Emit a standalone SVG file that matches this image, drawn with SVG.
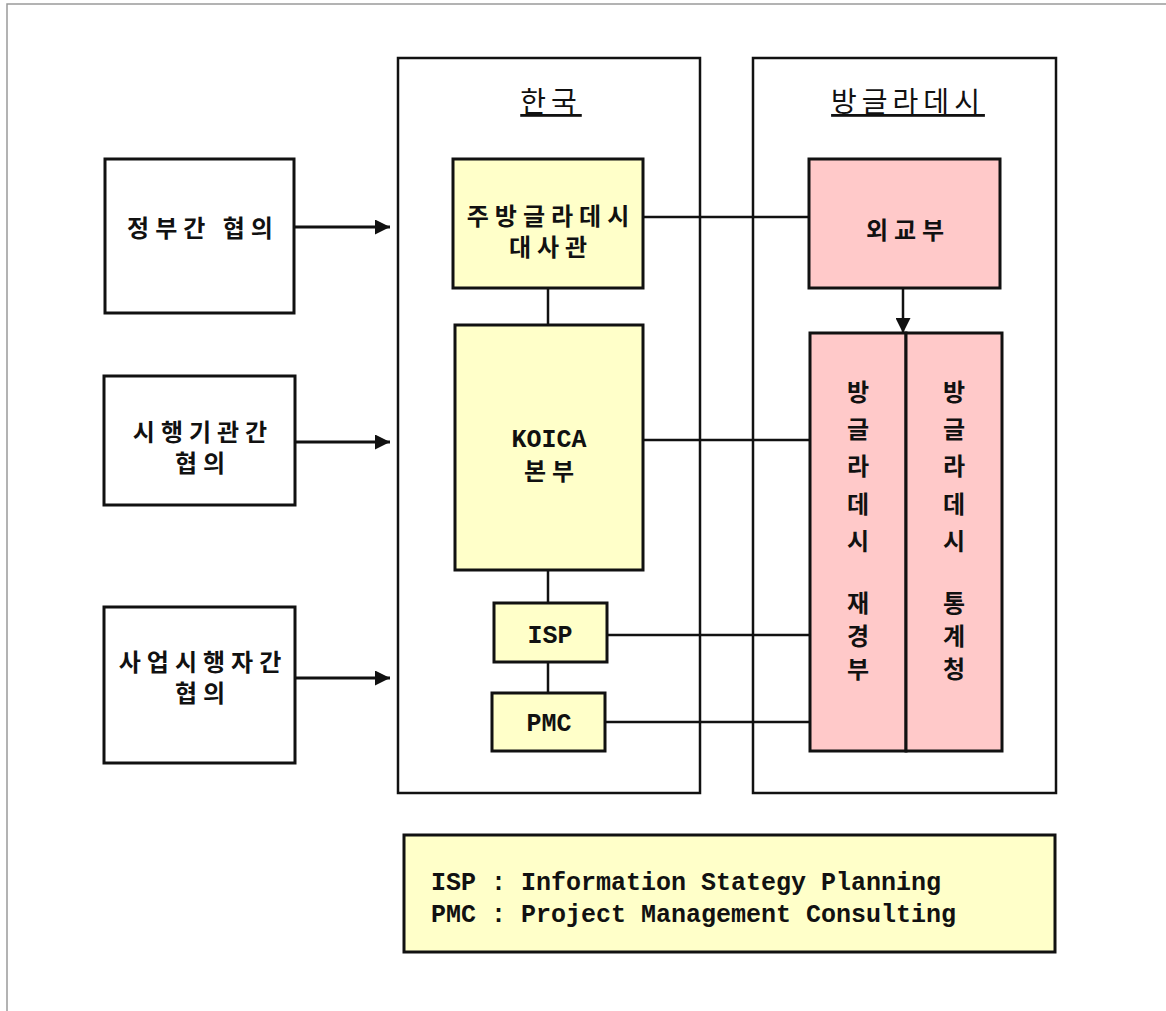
<svg xmlns="http://www.w3.org/2000/svg" width="1166" height="1011" viewBox="0 0 1166 1011">
<defs>
<style>
.frame{stroke:#9a9a9a;stroke-width:1.5;fill:none}
.cont{fill:#fff;stroke:#111;stroke-width:2.5}
.plain{fill:#fff;stroke:#111;stroke-width:3}
.yel{fill:#FFFFC9;stroke:#111;stroke-width:3}
.pink{fill:#FFC9C9;stroke:#111;stroke-width:3}
.ko{font-family:"Noto Sans CJK KR","Noto Sans",sans-serif;font-weight:bold;font-size:24px;letter-spacing:6px;fill:#111;text-anchor:middle}
.title{font-family:"Noto Sans CJK KR","Noto Sans",sans-serif;font-size:28px;letter-spacing:5px;fill:#111;text-anchor:middle;text-decoration:underline}
.mono{font-family:"Liberation Mono","DejaVu Sans Mono",monospace;font-weight:bold;font-size:25px;fill:#111}
.line{stroke:#111;stroke-width:2.5;fill:none}
.arr{stroke:#111;stroke-width:3;fill:none}
</style>
<marker id="ah" viewBox="0 0 10 10" refX="10" refY="5" markerWidth="5" markerHeight="5" markerUnits="strokeWidth" orient="auto">
<path d="M0,0 L10,5 L0,10 z" fill="#111"/>
</marker>
<marker id="ah2" viewBox="0 0 10 10" refX="10" refY="5" markerWidth="6" markerHeight="6" markerUnits="strokeWidth" orient="auto">
<path d="M0,0 L10,5 L0,10 z" fill="#111"/>
</marker>
</defs>
<rect width="1166" height="1011" fill="#fff"/>
<path class="frame" d="M7,1011 V4 H1166"/>

<g id="korea">
<rect class="cont" x="398" y="58" width="302" height="735"/>
<text class="title" x="551" y="112">한국</text>
</g>
<g id="bangladesh">
<rect class="cont" x="753" y="58" width="303" height="735"/>
<text class="title" x="908" y="112">방글라데시</text>
</g>

<g id="connectors">
<line class="line" x1="643" y1="217" x2="809" y2="217"/>
<line class="line" x1="643" y1="440" x2="810" y2="440"/>
<line class="line" x1="607" y1="635" x2="810" y2="635"/>
<line class="line" x1="605" y1="722" x2="810" y2="722"/>
<line class="line" x1="548" y1="288" x2="548" y2="325"/>
<line class="line" x1="548" y1="570" x2="548" y2="603"/>
<line class="line" x1="548" y1="662" x2="548" y2="693"/>
<line class="line" x1="903" y1="288" x2="903" y2="333" marker-end="url(#ah2)"/>
<line class="arr" x1="295" y1="227" x2="390" y2="227" marker-end="url(#ah)"/>
<line class="arr" x1="295" y1="442" x2="390" y2="442" marker-end="url(#ah)"/>
<line class="arr" x1="295" y1="678" x2="390" y2="678" marker-end="url(#ah)"/>
</g>

<g id="gov">
<rect class="plain" x="105" y="159" width="189" height="154"/>
<text class="ko" x="203" y="237">정부간 협의</text>
</g>
<g id="agency">
<rect class="plain" x="104" y="376" width="191" height="129"/>
<text class="ko" x="203" y="441">시행기관간</text>
<text class="ko" x="203" y="472">협의</text>
</g>
<g id="implementer">
<rect class="plain" x="104" y="607" width="191" height="156"/>
<text class="ko" x="203" y="671">사업시행자간</text>
<text class="ko" x="203" y="702">협의</text>
</g>

<g id="embassy">
<rect class="yel" x="453" y="159" width="190" height="129"/>
<text class="ko" x="551" y="225">주방글라데시</text>
<text class="ko" x="551" y="256">대사관</text>
</g>
<g id="koica">
<rect class="yel" x="455" y="325" width="188" height="245"/>
<text class="mono" x="549" y="447" text-anchor="middle">KOICA</text>
<text class="ko" x="552" y="480">본부</text>
</g>
<g id="isp">
<rect class="yel" x="494" y="603" width="113" height="59"/>
<text class="mono" x="550" y="643" text-anchor="middle">ISP</text>
</g>
<g id="pmc">
<rect class="yel" x="492" y="693" width="113" height="58"/>
<text class="mono" x="549" y="731" text-anchor="middle">PMC</text>
</g>

<g id="mofa">
<rect class="pink" x="809" y="159" width="191" height="129"/>
<text class="ko" x="908" y="239">외교부</text>
</g>
<g id="finance">
<rect class="pink" x="810" y="333" width="96" height="418"/>
<text class="ko" x="861" y="401">방</text>
<text class="ko" x="861" y="438">글</text>
<text class="ko" x="861" y="475">라</text>
<text class="ko" x="861" y="513">데</text>
<text class="ko" x="861" y="550">시</text>
<text class="ko" x="861" y="612">재</text>
<text class="ko" x="861" y="645">경</text>
<text class="ko" x="861" y="678">부</text>
</g>
<g id="stats">
<rect class="pink" x="906" y="333" width="96" height="418"/>
<text class="ko" x="957" y="401">방</text>
<text class="ko" x="957" y="438">글</text>
<text class="ko" x="957" y="475">라</text>
<text class="ko" x="957" y="513">데</text>
<text class="ko" x="957" y="550">시</text>
<text class="ko" x="957" y="612">통</text>
<text class="ko" x="957" y="645">계</text>
<text class="ko" x="957" y="678">청</text>
</g>

<g id="legend">
<rect class="yel" x="404" y="835" width="651" height="117"/>
<text class="mono" x="431" y="890" xml:space="preserve">ISP : Information Stategy Planning</text>
<text class="mono" x="431" y="922" xml:space="preserve">PMC : Project Management Consulting</text>
</g>
</svg>
